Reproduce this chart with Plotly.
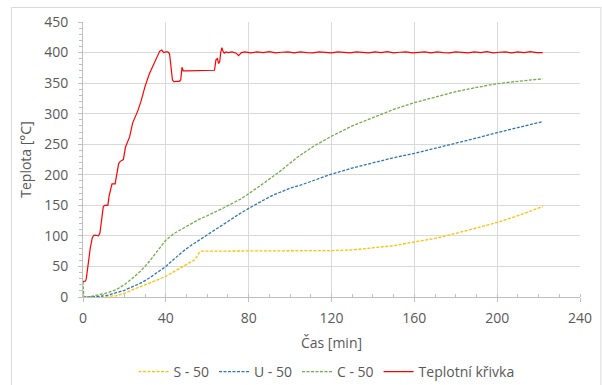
import plotly.graph_objects as go

# --- data ---
red_t = [0, 1.2, 1.6, 2.5, 3.5, 4.5, 5.2, 6, 7.5, 8.2, 9, 9.8, 10.5, 12, 12.6, 13.5, 14, 15.5,
         16.2, 17.2, 18, 19.5, 20.5, 21.5, 22.5, 24, 25, 26.5, 28, 30, 32, 34, 36, 37, 38, 39,
         40, 41, 41.8, 42.5, 43.2, 44, 45, 46.5, 47.2, 47.8, 48.4, 50, 55, 60, 63.5, 64.2,
         64.9, 65.5, 66, 66.5, 67.1, 67.6, 68.2, 69, 70, 72, 74, 75.1, 76.5, 78,
         81, 84, 87, 90, 93, 96, 99, 102, 105, 108, 111, 114, 117, 120, 123, 126, 129, 132,
         135, 138, 141, 144, 147, 150, 153, 156, 159, 162, 165, 168, 171, 174, 177, 180,
         183, 186, 189, 192, 195, 198, 201, 204, 207, 210, 213, 216, 219, 222]
red_v = [25, 26, 30, 55, 80, 97, 101, 101, 100, 105, 130, 148, 150, 150, 165, 182, 185, 185,
         200, 218, 222, 225, 245, 255, 262, 285, 292, 305, 320, 345, 365, 380, 395, 402, 404, 400,
         401, 401, 398, 380, 355, 352, 353, 353, 355, 376, 370, 370, 370, 371, 371, 388,
         390, 382, 385, 400, 408, 402, 399, 401, 400, 401, 399, 395, 400, 401,
         399.5, 401, 400, 401.5, 399.5, 400.5, 401, 399.5, 401, 400, 399.5, 401, 400.5, 399.5, 401, 400, 399.5, 401,
         400.5, 399.5, 401, 400, 401.5, 399.5, 400.5, 401, 399.5, 400, 401, 399.5, 401, 400, 399.5, 401,
         400.5, 399.5, 401, 400, 401.5, 399.5, 400.5, 401, 399.5, 401, 400, 401.5, 400, 400]

c_t = [0, 0.4, 4, 8, 12, 16, 20, 24, 28, 32, 36, 40, 44, 48, 52, 56, 60, 64, 68, 72, 76, 80,
       84, 88, 96, 104, 112, 120, 130, 140, 150, 160, 170, 180, 190, 200, 210, 222]
c_v = [25, 0, 1, 4, 7, 12, 20, 31, 43, 58, 75, 93, 104, 112, 120, 127, 133, 139, 146, 153, 160, 169,
       178, 188, 208, 230, 248, 263, 280, 294, 307, 318, 327, 336, 343, 349, 353, 357]

u_t = [0, 4, 8, 12, 16, 20, 24, 28, 32, 36, 40, 44, 48, 52, 56, 60, 64, 68, 72, 76, 80, 84, 88,
       92, 96, 100, 105, 112, 120, 130, 140, 150, 160, 170, 180, 190, 200, 210, 222]
u_v = [0, 0, 1, 3, 6.5, 11, 17, 23, 31, 40, 50, 62, 74, 84, 93, 102, 110, 119, 128, 137, 145, 153, 160,
       167, 173, 178, 183, 192, 201, 211, 220, 228, 235, 243, 252, 260, 269, 277, 287]

s_t = [0, 6, 10, 16, 20, 24, 28, 32, 36, 40, 44, 48, 52, 54, 55, 56, 57, 60, 70, 80, 90, 92, 100,
       110, 120, 130, 140, 150, 160, 170, 180, 190, 200, 210, 222]
s_v = [0, 0, 1, 2, 6, 12, 17, 23, 28, 34, 42, 50, 57, 61, 66, 72, 75, 75, 75, 75, 75, 76, 76,
       76, 76, 77, 80, 84, 90, 96, 104, 113, 122, 133, 148]

x_title = "Čas [min]"
y_title = "Teplota [°C]"

TXT = "#595959"
GRID = "#d9d9d9"
FONT = "Open Sans, Lato, sans-serif"
dash = "3px,1.5px"

fig = go.Figure()
fig.add_trace(go.Scatter(x=s_t, y=s_v, name="S - 50", mode="lines",
                         line=dict(color="#FFC000", width=1.3, dash=dash)))
fig.add_trace(go.Scatter(x=u_t, y=u_v, name="U - 50", mode="lines",
                         line=dict(color="#2E75B6", width=1.3, dash=dash)))
fig.add_trace(go.Scatter(x=c_t, y=c_v, name="C - 50", mode="lines",
                         line=dict(color="#70AD47", width=1.3, dash=dash)))
fig.add_trace(go.Scatter(x=red_t, y=red_v, name="Teplotní křivka", mode="lines",
                         line=dict(color="#FF0000", width=1.2)))

fig.update_layout(
    width=602, height=385,
    margin=dict(l=83, r=22, t=22, b=88, autoexpand=False),
    paper_bgcolor="white", plot_bgcolor="white",
    font=dict(family=FONT, size=14, color=TXT),
    showlegend=True,
    legend=dict(orientation="h", x=0.49, xanchor="center", y=-0.273, yanchor="middle",
                font=dict(size=14, color=TXT), itemwidth=30, tracegroupgap=0),
    shapes=[dict(type="rect", xref="paper", yref="paper",
                 x0=-0.1439, x1=1.042, y0=-0.33, y1=1.0527,
                 line=dict(color=GRID, width=1))],
)
fig.update_xaxes(range=[0, 240], dtick=40, tick0=0, showgrid=True, gridcolor=GRID, gridwidth=1,
                 showline=True, linecolor="#bfbfbf", linewidth=1, zeroline=False,
                 ticks="outside", ticklen=4, tickcolor="#bfbfbf", automargin=False,
                 minor=dict(dtick=10, ticks="inside", ticklen=3, tickcolor="#bfbfbf", showgrid=False),
                 tickfont=dict(size=14, color=TXT), ticklabelstandoff=4,
                 title=dict(text=x_title, font=dict(size=14, color=TXT), standoff=12))
fig.update_yaxes(range=[0, 450], dtick=50, tick0=0, showgrid=True, gridcolor=GRID, gridwidth=1,
                 showline=True, linecolor="#bfbfbf", linewidth=1, zeroline=False,
                 ticks="outside", ticklen=4, tickcolor="#bfbfbf", automargin=False,
                 minor=dict(dtick=10, ticks="outside", ticklen=3, tickcolor="#bfbfbf", showgrid=False),
                 tickfont=dict(size=14, color=TXT), ticklabelstandoff=7,
                 title=dict(text=y_title, font=dict(size=14, color=TXT), standoff=9))

fig.write_html("out.html")
